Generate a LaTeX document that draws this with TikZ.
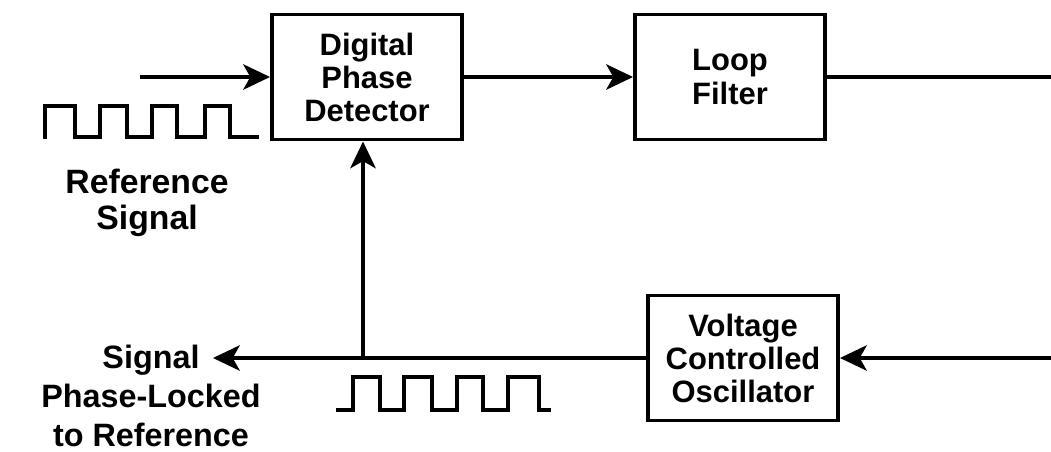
\documentclass[tikz,border=0pt]{standalone}
\usepackage{fontspec}
\setmainfont{Liberation Sans}
\usepackage{tikz}
\usetikzlibrary{arrows.meta,positioning}

\begin{document}
\begin{tikzpicture}[
  x=0.025cm, y=-0.025cm,
  block/.style={draw, line width=2.8pt, minimum width=4.75cm, minimum height=3.125cm,
    align=center, font=\bfseries\fontsize{22}{23.5}\selectfont},
  lbl/.style={align=center, font=\bfseries\fontsize{24}{26}\selectfont},
  arr/.style={-{Stealth[length=19pt, width=18pt, inset=5pt]}, line width=2.8pt},
  wire/.style={line width=2.8pt},
  wave/.style={line width=2.4pt, line cap=rect}
]
\useasboundingbox (0,0) rectangle (1051,452);

% loop blocks
\node[block] (dpd) at (367,77) {Digital\\Phase\\Detector};
\node[block] (lf) at (730,77) {Loop\\Filter};
\node[block] (vco) at (743,358) {Voltage\\Controlled\\Oscillator};

% free ends of the wires
\coordinate (in) at (140,77);
\coordinate (lfout) at (1051,77);
\coordinate (vcoin) at (1051,358);
\coordinate (out) at (213,358);
\coordinate (tap) at (363,358);

\draw[arr] (in) -- (dpd.west);
\draw[arr] (dpd) -- (lf);
\draw[wire] (lf.east) -- (lfout);
\draw[arr] (vcoin) -- (vco.east);
\draw[arr] (vco.west) -- (out);
\draw[arr] (tap) -- (tap |- dpd.south);

% square waves
\draw[wave] (45,137) -- (45,106) -- (75,106) -- (75,137) -- (100,137) -- (100,106)
  -- (127,106) -- (127,137) -- (152,137) -- (152,106) -- (177,106) -- (177,137)
  -- (205,137) -- (205,106) -- (230,106) -- (230,137) -- (257,137);
\draw[wave] (338,410) -- (353,410) -- (353,377) -- (380,377) -- (380,410) -- (404,410)
  -- (404,377) -- (432,377) -- (432,410) -- (457,410) -- (457,377) -- (483,377)
  -- (483,410) -- (508,410) -- (508,377) -- (539,377) -- (539,410) -- (549,410);

% signal names
\node[lbl] (refsig) at (147,203) {Reference\\Signal};
\node[lbl, font=\bfseries\fontsize{23}{28}\selectfont] (locked) at (151,396) {Signal\\Phase-Locked\\to Reference};
\end{tikzpicture}
\end{document}
